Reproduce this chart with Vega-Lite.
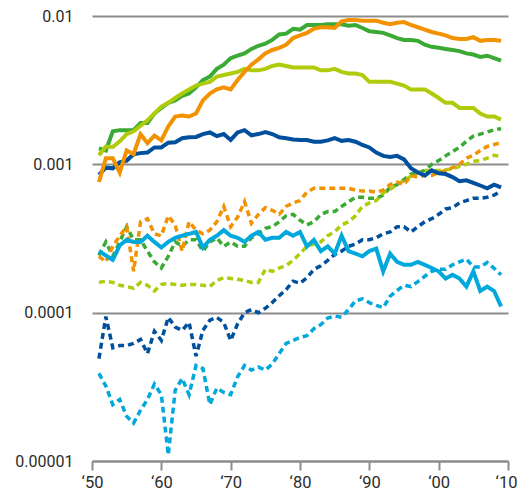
{
  "$schema": "https://vega.github.io/schema/vega-lite/v6.json",
  "width": 416,
  "height": 445,
  "autosize": "none",
  "padding": {"left": 92, "top": 16, "right": 10, "bottom": 34},
  "background": "white",
  "config": {"view": {"stroke": null}, "font": "Roboto"},
  "datasets": {
    "solid": [
      {"year":1951,"darkblue":0.00085,"lightblue":0.00026,"green":0.00128,"lightgreen":0.00115,"orange":0.00076},
      {"year":1952,"darkblue":0.00095,"lightblue":0.000243,"green":0.00124,"lightgreen":0.00132,"orange":0.0011},
      {"year":1953,"darkblue":0.00094,"lightblue":0.000227,"green":0.00167,"lightgreen":0.00131,"orange":0.0011},
      {"year":1954,"darkblue":0.00103,"lightblue":0.000284,"green":0.0017,"lightgreen":0.00143,"orange":0.00088},
      {"year":1955,"darkblue":0.00106,"lightblue":0.00031,"green":0.0017,"lightgreen":0.0016,"orange":0.00124},
      {"year":1956,"darkblue":0.00117,"lightblue":0.0003,"green":0.0017,"lightgreen":0.00167,"orange":0.00117},
      {"year":1957,"darkblue":0.00119,"lightblue":0.0003,"green":0.0019,"lightgreen":0.00182,"orange":0.0016},
      {"year":1958,"darkblue":0.0012,"lightblue":0.00033,"green":0.0019,"lightgreen":0.00198,"orange":0.00139},
      {"year":1959,"darkblue":0.0013,"lightblue":0.0003,"green":0.0022,"lightgreen":0.0022,"orange":0.00156},
      {"year":1960,"darkblue":0.0013,"lightblue":0.000275,"green":0.0024,"lightgreen":0.00245,"orange":0.00145},
      {"year":1961,"darkblue":0.0014,"lightblue":0.0003,"green":0.0026,"lightgreen":0.0026,"orange":0.0018},
      {"year":1962,"darkblue":0.00141,"lightblue":0.00032,"green":0.0027,"lightgreen":0.0028,"orange":0.0021},
      {"year":1963,"darkblue":0.0015,"lightblue":0.00033,"green":0.0029,"lightgreen":0.003,"orange":0.00213},
      {"year":1964,"darkblue":0.00152,"lightblue":0.00034,"green":0.003,"lightgreen":0.0032,"orange":0.0021},
      {"year":1965,"darkblue":0.00153,"lightblue":0.00035,"green":0.0033,"lightgreen":0.0034,"orange":0.0022},
      {"year":1966,"darkblue":0.0016,"lightblue":0.000275,"green":0.0037,"lightgreen":0.0035,"orange":0.0027},
      {"year":1967,"darkblue":0.00164,"lightblue":0.00031,"green":0.0039,"lightgreen":0.0036,"orange":0.003},
      {"year":1968,"darkblue":0.00155,"lightblue":0.00033,"green":0.0044,"lightgreen":0.0039,"orange":0.0032},
      {"year":1969,"darkblue":0.0016,"lightblue":0.00036,"green":0.0047,"lightgreen":0.004,"orange":0.0033},
      {"year":1970,"darkblue":0.00146,"lightblue":0.00033,"green":0.0052,"lightgreen":0.0041,"orange":0.0032},
      {"year":1971,"darkblue":0.00164,"lightblue":0.00032,"green":0.0054,"lightgreen":0.0042,"orange":0.0037},
      {"year":1972,"darkblue":0.0017,"lightblue":0.0003,"green":0.0056,"lightgreen":0.0044,"orange":0.0042},
      {"year":1973,"darkblue":0.00157,"lightblue":0.00033,"green":0.006,"lightgreen":0.0043,"orange":0.0047},
      {"year":1974,"darkblue":0.0016,"lightblue":0.00035,"green":0.0063,"lightgreen":0.0043,"orange":0.0051},
      {"year":1975,"darkblue":0.00165,"lightblue":0.00031,"green":0.0065,"lightgreen":0.0044,"orange":0.0056},
      {"year":1976,"darkblue":0.0016,"lightblue":0.00032,"green":0.0069,"lightgreen":0.0046,"orange":0.0059},
      {"year":1977,"darkblue":0.00152,"lightblue":0.00032,"green":0.0075,"lightgreen":0.0047,"orange":0.0061},
      {"year":1978,"darkblue":0.0015,"lightblue":0.00035,"green":0.0076,"lightgreen":0.0046,"orange":0.0064},
      {"year":1979,"darkblue":0.00147,"lightblue":0.00033,"green":0.0082,"lightgreen":0.0045,"orange":0.0071},
      {"year":1980,"darkblue":0.00146,"lightblue":0.00035,"green":0.0081,"lightgreen":0.0045,"orange":0.0074},
      {"year":1981,"darkblue":0.00146,"lightblue":0.00028,"green":0.0087,"lightgreen":0.0045,"orange":0.0077},
      {"year":1982,"darkblue":0.00142,"lightblue":0.00031,"green":0.0087,"lightgreen":0.0045,"orange":0.0082},
      {"year":1983,"darkblue":0.00142,"lightblue":0.00026,"green":0.0087,"lightgreen":0.0043,"orange":0.0084},
      {"year":1984,"darkblue":0.00145,"lightblue":0.00028,"green":0.0088,"lightgreen":0.0043,"orange":0.0084},
      {"year":1985,"darkblue":0.0015,"lightblue":0.00025,"green":0.0088,"lightgreen":0.0044,"orange":0.0083},
      {"year":1986,"darkblue":0.00144,"lightblue":0.00033,"green":0.0088,"lightgreen":0.0042,"orange":0.0092},
      {"year":1987,"darkblue":0.00146,"lightblue":0.00026,"green":0.0086,"lightgreen":0.0041,"orange":0.0094},
      {"year":1988,"darkblue":0.00142,"lightblue":0.00025,"green":0.0087,"lightgreen":0.0041,"orange":0.0094},
      {"year":1989,"darkblue":0.00135,"lightblue":0.00024,"green":0.0083,"lightgreen":0.004,"orange":0.0093},
      {"year":1990,"darkblue":0.0013,"lightblue":0.00026,"green":0.0079,"lightgreen":0.0036,"orange":0.0093},
      {"year":1991,"darkblue":0.0012,"lightblue":0.00027,"green":0.0078,"lightgreen":0.0036,"orange":0.0093},
      {"year":1992,"darkblue":0.00114,"lightblue":0.00019,"green":0.0077,"lightgreen":0.0036,"orange":0.009},
      {"year":1993,"darkblue":0.00112,"lightblue":0.00025,"green":0.0074,"lightgreen":0.0036,"orange":0.0088},
      {"year":1994,"darkblue":0.00114,"lightblue":0.00022,"green":0.0071,"lightgreen":0.0035,"orange":0.009},
      {"year":1995,"darkblue":0.00108,"lightblue":0.00021,"green":0.0069,"lightgreen":0.0034,"orange":0.0091},
      {"year":1996,"darkblue":0.00094,"lightblue":0.00021,"green":0.0069,"lightgreen":0.0032,"orange":0.0087},
      {"year":1997,"darkblue":0.00088,"lightblue":0.00022,"green":0.0068,"lightgreen":0.0032,"orange":0.0084},
      {"year":1998,"darkblue":0.00084,"lightblue":0.00021,"green":0.0064,"lightgreen":0.0032,"orange":0.0081},
      {"year":1999,"darkblue":0.00091,"lightblue":0.0002,"green":0.0062,"lightgreen":0.003,"orange":0.0078},
      {"year":2000,"darkblue":0.00087,"lightblue":0.00019,"green":0.0061,"lightgreen":0.0028,"orange":0.0076},
      {"year":2001,"darkblue":0.00086,"lightblue":0.00017,"green":0.006,"lightgreen":0.0026,"orange":0.0074},
      {"year":2002,"darkblue":0.00082,"lightblue":0.00018,"green":0.0059,"lightgreen":0.0026,"orange":0.0071},
      {"year":2003,"darkblue":0.00077,"lightblue":0.00017,"green":0.0058,"lightgreen":0.0024,"orange":0.007},
      {"year":2004,"darkblue":0.00078,"lightblue":0.00015,"green":0.0056,"lightgreen":0.0024,"orange":0.007},
      {"year":2005,"darkblue":0.00075,"lightblue":0.00019,"green":0.0055,"lightgreen":0.0024,"orange":0.0072},
      {"year":2006,"darkblue":0.00072,"lightblue":0.00014,"green":0.0053,"lightgreen":0.0022,"orange":0.0068},
      {"year":2007,"darkblue":0.00069,"lightblue":0.00015,"green":0.0054,"lightgreen":0.0021,"orange":0.0069},
      {"year":2008,"darkblue":0.00073,"lightblue":0.00014,"green":0.0052,"lightgreen":0.0021,"orange":0.0069},
      {"year":2009,"darkblue":0.0007,"lightblue":0.00011,"green":0.005,"lightgreen":0.002,"orange":0.0068}
    ],
    "dashed": [
      {"year":1951,"darkblue":0.000049,"lightblue":0.000039,"green":0.000243,"lightgreen":0.00016,"orange":0.00024},
      {"year":1952,"darkblue":0.000094,"lightblue":0.000032,"green":0.0003,"lightgreen":0.000163,"orange":0.00022},
      {"year":1953,"darkblue":0.000058,"lightblue":0.000024,"green":0.00024,"lightgreen":0.00016,"orange":0.00028},
      {"year":1954,"darkblue":0.00006,"lightblue":0.000026,"green":0.0003,"lightgreen":0.000153,"orange":0.00033},
      {"year":1955,"darkblue":0.00006,"lightblue":0.00002,"green":0.00038,"lightgreen":0.00015,"orange":0.00038},
      {"year":1956,"darkblue":0.000062,"lightblue":0.000018,"green":0.00031,"lightgreen":0.000146,"orange":0.00019},
      {"year":1957,"darkblue":0.000066,"lightblue":0.000022,"green":0.00031,"lightgreen":0.00016,"orange":0.00041},
      {"year":1958,"darkblue":0.000053,"lightblue":0.000026,"green":0.00026,"lightgreen":0.000153,"orange":0.00043},
      {"year":1959,"darkblue":0.000075,"lightblue":0.000033,"green":0.00022,"lightgreen":0.00014,"orange":0.00034},
      {"year":1960,"darkblue":0.000065,"lightblue":0.000028,"green":0.0002,"lightgreen":0.000155,"orange":0.00033},
      {"year":1961,"darkblue":0.000093,"lightblue":0.000011,"green":0.00024,"lightgreen":0.000157,"orange":0.00045},
      {"year":1962,"darkblue":0.00008,"lightblue":0.00003,"green":0.0003,"lightgreen":0.000155,"orange":0.00039},
      {"year":1963,"darkblue":0.000076,"lightblue":0.000036,"green":0.00028,"lightgreen":0.000153,"orange":0.00026},
      {"year":1964,"darkblue":0.000086,"lightblue":0.000028,"green":0.00031,"lightgreen":0.000155,"orange":0.00041},
      {"year":1965,"darkblue":0.000051,"lightblue":0.000044,"green":0.00031,"lightgreen":0.000155,"orange":0.00036},
      {"year":1966,"darkblue":0.000076,"lightblue":0.000042,"green":0.00026,"lightgreen":0.000153,"orange":0.00034},
      {"year":1967,"darkblue":0.000089,"lightblue":0.000024,"green":0.0003,"lightgreen":0.00015,"orange":0.00036},
      {"year":1968,"darkblue":0.000093,"lightblue":0.000031,"green":0.00032,"lightgreen":0.000165,"orange":0.00041},
      {"year":1969,"darkblue":0.000086,"lightblue":0.000029,"green":0.00028,"lightgreen":0.000172,"orange":0.00052},
      {"year":1970,"darkblue":0.000065,"lightblue":0.000028,"green":0.0003,"lightgreen":0.00017,"orange":0.00038},
      {"year":1971,"darkblue":0.000084,"lightblue":0.000037,"green":0.00028,"lightgreen":0.000168,"orange":0.00044},
      {"year":1972,"darkblue":0.0001,"lightblue":0.000044,"green":0.00028,"lightgreen":0.000165,"orange":0.00056},
      {"year":1973,"darkblue":0.000105,"lightblue":0.000041,"green":0.00032,"lightgreen":0.00016,"orange":0.0004},
      {"year":1974,"darkblue":0.0001,"lightblue":0.000043,"green":0.00034,"lightgreen":0.00016,"orange":0.00046},
      {"year":1975,"darkblue":0.000107,"lightblue":0.000041,"green":0.00037,"lightgreen":0.000196,"orange":0.00051},
      {"year":1976,"darkblue":0.000117,"lightblue":0.000045,"green":0.00038,"lightgreen":0.00019,"orange":0.00049},
      {"year":1977,"darkblue":0.00013,"lightblue":0.000053,"green":0.00041,"lightgreen":0.0002,"orange":0.00046},
      {"year":1978,"darkblue":0.000143,"lightblue":0.000062,"green":0.00045,"lightgreen":0.000208,"orange":0.00052},
      {"year":1979,"darkblue":0.000163,"lightblue":0.000065,"green":0.00046,"lightgreen":0.000225,"orange":0.00055},
      {"year":1980,"darkblue":0.000158,"lightblue":0.000068,"green":0.00042,"lightgreen":0.00025,"orange":0.00057},
      {"year":1981,"darkblue":0.000172,"lightblue":0.00007,"green":0.00039,"lightgreen":0.00028,"orange":0.00065},
      {"year":1982,"darkblue":0.000196,"lightblue":0.000078,"green":0.00041,"lightgreen":0.00029,"orange":0.00069},
      {"year":1983,"darkblue":0.000207,"lightblue":0.000083,"green":0.00046,"lightgreen":0.0003,"orange":0.00069},
      {"year":1984,"darkblue":0.000225,"lightblue":0.000092,"green":0.00048,"lightgreen":0.00033,"orange":0.00069},
      {"year":1985,"darkblue":0.000247,"lightblue":0.000095,"green":0.00048,"lightgreen":0.00035,"orange":0.00069},
      {"year":1986,"darkblue":0.00026,"lightblue":0.000093,"green":0.00052,"lightgreen":0.00039,"orange":0.00069},
      {"year":1987,"darkblue":0.00028,"lightblue":0.000105,"green":0.00056,"lightgreen":0.00041,"orange":0.00069},
      {"year":1988,"darkblue":0.00029,"lightblue":0.00012,"green":0.0006,"lightgreen":0.00045,"orange":0.00067},
      {"year":1989,"darkblue":0.00031,"lightblue":0.000124,"green":0.0006,"lightgreen":0.00052,"orange":0.00066},
      {"year":1990,"darkblue":0.00031,"lightblue":0.000117,"green":0.00059,"lightgreen":0.00055,"orange":0.00066},
      {"year":1991,"darkblue":0.00032,"lightblue":0.000112,"green":0.00059,"lightgreen":0.00057,"orange":0.00065},
      {"year":1992,"darkblue":0.00034,"lightblue":0.000108,"green":0.00062,"lightgreen":0.00064,"orange":0.00067},
      {"year":1993,"darkblue":0.00035,"lightblue":0.000129,"green":0.0007,"lightgreen":0.00068,"orange":0.00073},
      {"year":1994,"darkblue":0.00038,"lightblue":0.000141,"green":0.00073,"lightgreen":0.00073,"orange":0.00076},
      {"year":1995,"darkblue":0.00038,"lightblue":0.000153,"green":0.00079,"lightgreen":0.00078,"orange":0.00073},
      {"year":1996,"darkblue":0.00035,"lightblue":0.00015,"green":0.00086,"lightgreen":0.00083,"orange":0.00084},
      {"year":1997,"darkblue":0.00038,"lightblue":0.000162,"green":0.00088,"lightgreen":0.00088,"orange":0.00082},
      {"year":1998,"darkblue":0.00041,"lightblue":0.000176,"green":0.00091,"lightgreen":0.00091,"orange":0.00084},
      {"year":1999,"darkblue":0.00043,"lightblue":0.00019,"green":0.001,"lightgreen":0.00091,"orange":0.00084},
      {"year":2000,"darkblue":0.00046,"lightblue":0.000196,"green":0.00106,"lightgreen":0.00091,"orange":0.00088},
      {"year":2001,"darkblue":0.0005,"lightblue":0.000196,"green":0.00114,"lightgreen":0.00092,"orange":0.00091},
      {"year":2002,"darkblue":0.00051,"lightblue":0.00021,"green":0.00122,"lightgreen":0.00093,"orange":0.00095},
      {"year":2003,"darkblue":0.00055,"lightblue":0.00022,"green":0.0013,"lightgreen":0.00097,"orange":0.001},
      {"year":2004,"darkblue":0.00057,"lightblue":0.00023,"green":0.00143,"lightgreen":0.001,"orange":0.0011},
      {"year":2005,"darkblue":0.00059,"lightblue":0.000203,"green":0.00155,"lightgreen":0.00105,"orange":0.00115},
      {"year":2006,"darkblue":0.00059,"lightblue":0.000203,"green":0.0016,"lightgreen":0.00106,"orange":0.00124},
      {"year":2007,"darkblue":0.0006,"lightblue":0.000218,"green":0.00165,"lightgreen":0.0011,"orange":0.00132},
      {"year":2008,"darkblue":0.00062,"lightblue":0.000199,"green":0.00171,"lightgreen":0.00115,"orange":0.00136},
      {"year":2009,"darkblue":0.00066,"lightblue":0.00018,"green":0.00174,"lightgreen":0.00113,"orange":0.0014}
    ]
  },
  "encoding": {
    "x": {
      "field": "year", "type": "quantitative",
      "scale": {"domain": [1950, 2010], "nice": false, "zero": false},
      "axis": {
        "values": [1950, 1960, 1970, 1980, 1990, 2000, 2010],
        "labelExpr": "'‘' + substring(toString(datum.value), 2)",
        "title": null, "grid": false,
        "domainColor": "#8c8c8c", "domainWidth": 2,
        "tickColor": "#8c8c8c", "tickWidth": 2, "tickSize": 9,
        "labelPadding": 4, "labelFontSize": 16.5, "labelColor": "#2b2b2b",
        "labelFont": "Roboto", "labelFlush": false,
        "labelOffset": {"condition": {"test": "datum.value == 2010", "value": -2}, "value": 0}
      }
    },
    "y": {
      "field": "value", "type": "quantitative",
      "scale": {"type": "log", "domain": [0.00001, 0.01], "nice": false},
      "axis": {
        "values": [0.00001, 0.0001, 0.001, 0.01],
        "format": "~f",
        "title": null, "grid": true,
        "gridColor": "#8c8c8c", "gridWidth": 2,
        "domain": false, "ticks": false, "tickSize": 0,
        "labelPadding": 19, "labelFontSize": 16, "labelColor": "#2b2b2b",
        "labelFont": "Roboto", "labelFlush": false
      }
    },
    "color": {
      "field": "series", "type": "nominal",
      "scale": {
        "domain": ["darkblue", "lightblue", "green", "lightgreen", "orange"],
        "range": ["#00509e", "#00a8dc", "#3aaa35", "#b0cb0b", "#f39200"]
      },
      "legend": null
    }
  },
  "layer": [
    {
      "data": {"name": "dashed"},
      "transform": [{"fold": ["darkblue", "lightblue", "green", "lightgreen", "orange"], "as": ["series", "value"]}],
      "mark": {"type": "line", "strokeWidth": 3.5, "strokeDash": [6, 4], "strokeJoin": "miter"}
    },
    {
      "data": {"name": "solid"},
      "transform": [{"fold": ["darkblue", "lightblue", "green", "lightgreen", "orange"], "as": ["series", "value"]}],
      "mark": {"type": "line", "strokeWidth": 4, "strokeJoin": "miter"}
    }
  ]
}
